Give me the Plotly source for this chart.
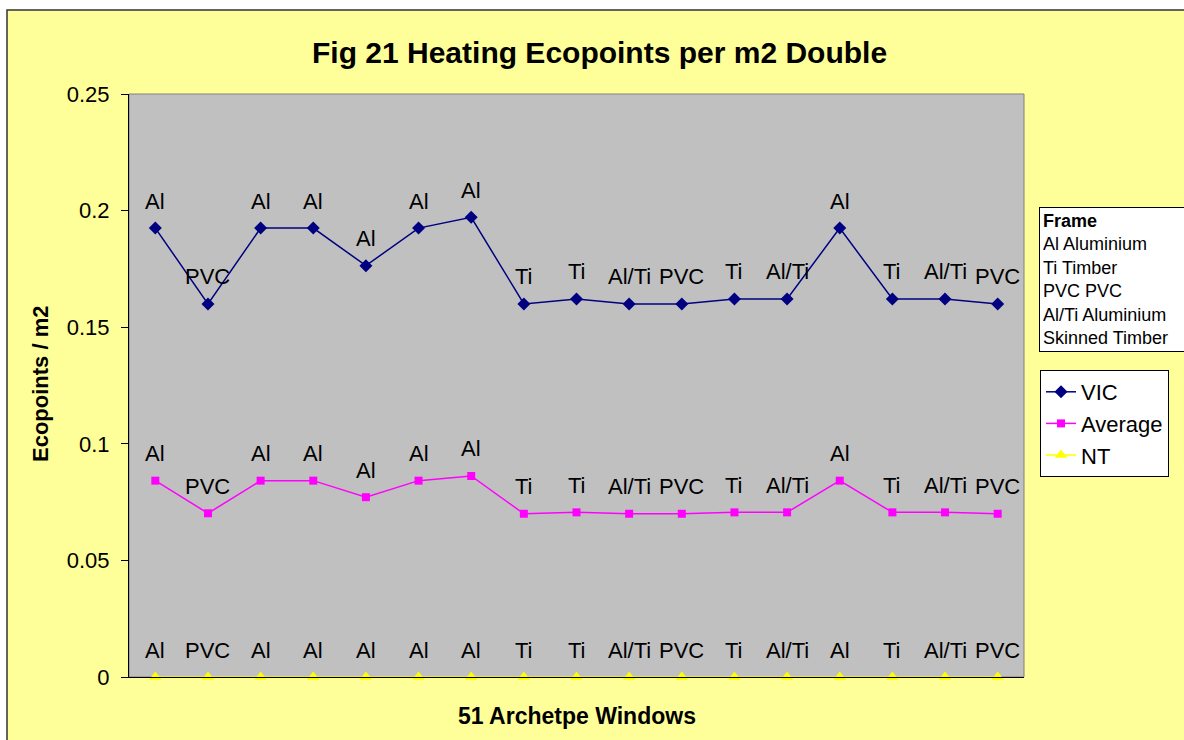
import plotly.graph_objects as go

window_index = list(range(1, 18))
frame_labels = ["Al", "PVC", "Al", "Al", "Al", "Al", "Al", "Ti", "Ti", "Al/Ti",
                "PVC", "Ti", "Al/Ti", "Al", "Ti", "Al/Ti", "PVC"]
vic = [0.1925, 0.160, 0.1925, 0.1925, 0.1764, 0.1925, 0.1971, 0.160, 0.1621, 0.160,
       0.160, 0.1621, 0.1621, 0.1925, 0.1621, 0.1621, 0.160]
average = [0.0842, 0.0702, 0.0842, 0.0842, 0.0771, 0.0842, 0.0862, 0.0700, 0.0706, 0.0700,
           0.0700, 0.0706, 0.0706, 0.0842, 0.0706, 0.0706, 0.0700]
nt = [0.0] * 17

FONT = "Liberation Sans, Arial, Helvetica, sans-serif"
W, H = 1184, 740
L, R, T, B = 129, 160, 94, 63
pw, ph = W - L - R, H - T - B

def px(x):
    return (x - L) / pw

def py(y):
    return (H - B - y) / ph

fig = go.Figure()
fig.add_trace(go.Scatter(x=window_index, y=vic, name="VIC", mode="lines+markers",
                         line=dict(color="#000080", width=1.5),
                         marker=dict(symbol="diamond", size=10, color="#000080")))
fig.add_trace(go.Scatter(x=window_index, y=average, name="Average", mode="lines+markers",
                         line=dict(color="#FF00FF", width=1.5),
                         marker=dict(symbol="square", size=8, color="#FF00FF")))
fig.add_trace(go.Scatter(x=window_index, y=nt, name="NT", mode="lines+markers",
                         line=dict(color="#FFFF00", width=1.5),
                         marker=dict(symbol="triangle-up", size=11, color="#FFFF00"),
                         cliponaxis=False))

annotations = []
for series in (vic, average, nt):
    for c, v, lab in zip(window_index, series, frame_labels):
        annotations.append(dict(x=c, y=v, xref="x", yref="y", text=lab, showarrow=False,
                                xanchor="center", yanchor="middle",
                                yshift=27, font=dict(size=22, color="black", family=FONT)))

annotations.append(dict(x=px(599), y=py(52), xref="paper", yref="paper",
                        xanchor="center", yanchor="middle",
                        text="<b>Fig 21 Heating Ecopoints per m2 Double</b>", showarrow=False,
                        font=dict(size=30, color="black", family=FONT)))
annotations.append(dict(x=px(577), y=py(716), xref="paper", yref="paper",
                        xanchor="center", yanchor="middle",
                        text="<b>51 Archetpe Windows</b>", showarrow=False,
                        font=dict(size=23, color="black", family=FONT)))
annotations.append(dict(x=px(40), y=py(384), xref="paper", yref="paper",
                        xanchor="center", yanchor="middle",
                        text="<b>Ecopoints / m2</b>", showarrow=False, textangle=-90,
                        font=dict(size=22, color="black", family=FONT)))
annotations.append(dict(x=px(1039), y=py(207), xref="paper", yref="paper",
                        xanchor="left", yanchor="top", align="left", width=170,
                        text="<b>Frame</b><br>Al Aluminium<br>Ti Timber<br>PVC PVC<br>Al/Ti Aluminium<br>Skinned Timber",
                        showarrow=False, bgcolor="white", bordercolor="black", borderwidth=1,
                        borderpad=3,
                        font=dict(size=18, color="black", family=FONT)))

shapes = [
    dict(type="rect", xref="paper", yref="paper", x0=px(7), x1=px(1200), y0=py(10), y1=py(760),
         fillcolor="#FFFF99", line=dict(color="#333333", width=1.5), layer="below"),
    dict(type="rect", xref="paper", yref="paper", x0=0, x1=1, y0=0, y1=1,
         fillcolor="#C0C0C0", line=dict(color="#808080", width=1), layer="below"),
]

fig.update_layout(
    width=W, height=H,
    margin=dict(l=L, r=R, t=T, b=B),
    paper_bgcolor="white", plot_bgcolor="#C0C0C0",
    font=dict(family=FONT, color="black"),
    showlegend=True,
    legend=dict(x=px(1040), y=py(370), xanchor="left", yanchor="top",
                bgcolor="white", bordercolor="black", borderwidth=1,
                font=dict(size=22, color="black", family=FONT), tracegroupgap=0),
    annotations=annotations, shapes=shapes,
    xaxis=dict(range=[0.5, 17.5], showticklabels=False, ticks="",
               showgrid=False, zeroline=False, showline=True, linecolor="black", linewidth=1),
    yaxis=dict(range=[0, 0.25], dtick=0.05, tick0=0, ticks="outside", ticklen=7,
               ticklabelstandoff=7,
               tickcolor="black", showgrid=False, zeroline=False, showline=True,
               linecolor="black", linewidth=1, tickfont=dict(size=22, color="black", family=FONT)),
)

fig.write_html("out.html", config={"displayModeBar": False},
               post_script="document.body.style.margin='0';document.body.style.overflow='hidden';")
